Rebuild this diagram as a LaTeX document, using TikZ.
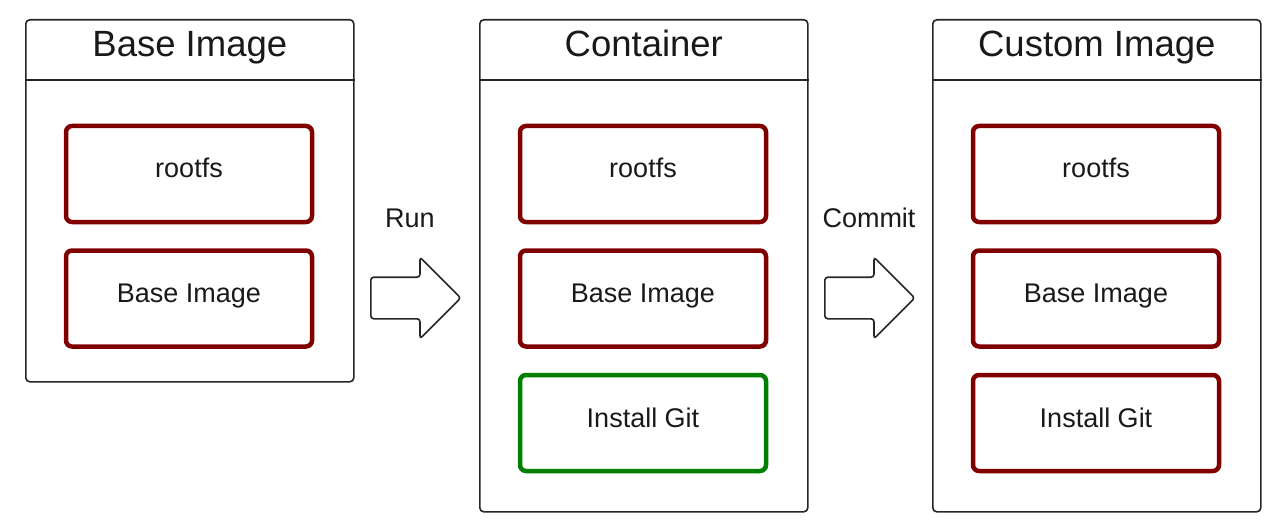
\documentclass[tikz,border=0pt]{standalone}
\usepackage{fontspec}
\setmainfont{Liberation Sans}
\usetikzlibrary{positioning,shapes.arrows}

\tikzset{
  panel/.style={draw=black!85, line width=1.6pt, rounded corners=4pt,
    minimum width=328pt, inner sep=0pt},
  head/.style={font=\fontsize{36.5}{42}\selectfont, text=black!90, anchor=base},
  layer/.style={draw=red!50!black, line width=4.5pt, rounded corners=6pt,
    minimum width=246pt, minimum height=96pt, inner sep=0pt,
    text height=8pt, text depth=0pt,
    font=\fontsize{27}{32}\selectfont, text=black!90},
  newlayer/.style={layer, draw=green!50!black},
  flow/.style={single arrow, draw=black!85, line width=1.6pt, rounded corners=3pt,
    minimum height=90pt, inner xsep=0pt, inner ysep=20pt, anchor=tail,
    single arrow head extend=20pt, single arrow tip angle=90},
  actlabel/.style={font=\fontsize{27}{32}\selectfont, text=black!90}
}

\begin{document}
\begin{tikzpicture}[x=1pt,y=-1pt]
\useasboundingbox (0,0) rectangle (1275,524);

% Base Image
\node[panel, minimum height=362pt, anchor=north west] (basepanel) at (25,19) {};
\draw[black!85, line width=1.6pt] ([yshift=-61pt]basepanel.north west) -- ([yshift=-61pt]basepanel.north east);
\node[head] (basetitle) at ([yshift=-38pt]basepanel.north) {Base Image};
\node[layer] (baserootfs) at (189,174) {rootfs};
\node[layer, below=24pt of baserootfs] (basebase) {Base Image};

% Container
\node[panel, minimum height=492pt, anchor=north west] (contpanel) at (479,19) {};
\draw[black!85, line width=1.6pt] ([yshift=-61pt]contpanel.north west) -- ([yshift=-61pt]contpanel.north east);
\node[head] (conttitle) at ([yshift=-38pt]contpanel.north) {Container};
\node[layer] (controotfs) at (643,174) {rootfs};
\node[layer, below=24pt of controotfs] (contbase) {Base Image};
\node[newlayer, below=24pt of contbase] (contgit) {Install Git};

% Custom Image
\node[panel, minimum height=492pt, anchor=north west] (custpanel) at (932,19) {};
\draw[black!85, line width=1.6pt] ([yshift=-61pt]custpanel.north west) -- ([yshift=-61pt]custpanel.north east);
\node[head] (custtitle) at ([yshift=-38pt]custpanel.north) {Custom Image};
\node[layer] (custrootfs) at (1096,174) {rootfs};
\node[layer, below=24pt of custrootfs] (custbase) {Base Image};
\node[layer, below=24pt of custbase] (custgit) {Install Git};

% arrows
\node[flow] (runarrow) at (370,298) {};
\node[actlabel] (runlabel) at (410,218) {Run};
\node[flow] (commitarrow) at (824,298) {};
\node[actlabel] (commitlabel) at (869,218) {Commit};
\end{tikzpicture}
\end{document}
